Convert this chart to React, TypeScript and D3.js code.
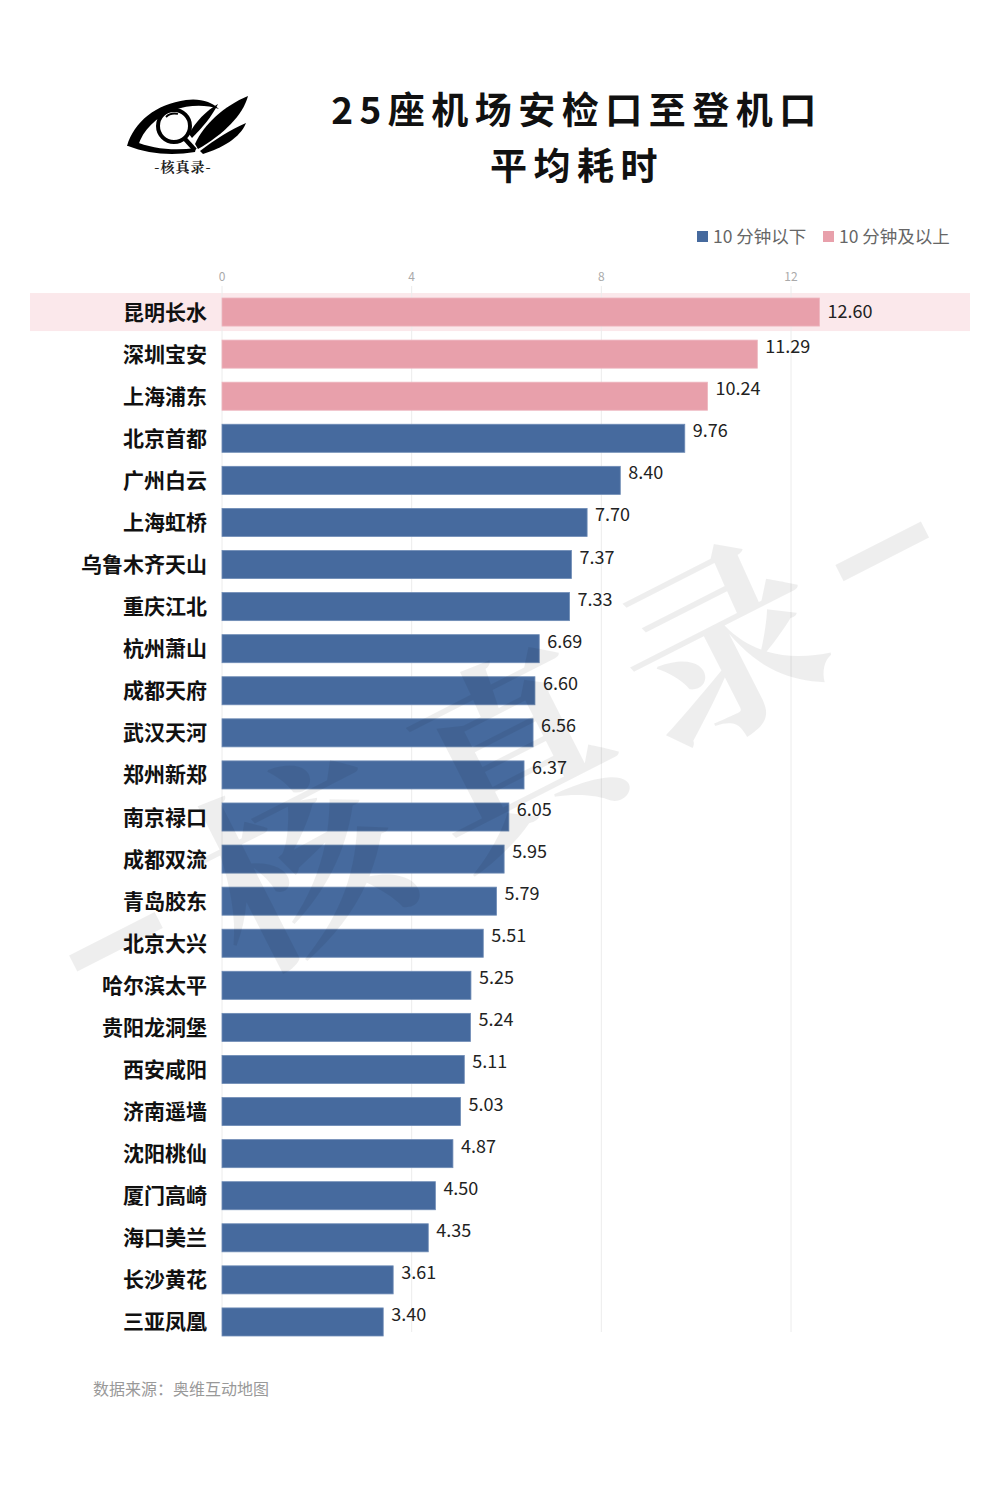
import React from "react";
import * as d3 from "d3";

const airports: string[] = [
  "昆明长水", "深圳宝安", "上海浦东", "北京首都", "广州白云", "上海虹桥", "乌鲁木齐天山",
  "重庆江北", "杭州萧山", "成都天府", "武汉天河", "郑州新郑", "南京禄口", "成都双流",
  "青岛胶东", "北京大兴", "哈尔滨太平", "贵阳龙洞堡", "西安咸阳", "济南遥墙", "沈阳桃仙",
  "厦门高崎", "海口美兰", "长沙黄花", "三亚凤凰",
];
const minutes: number[] = [
  12.6, 11.29, 10.24, 9.76, 8.4, 7.7, 7.37, 7.33, 6.69, 6.6, 6.56, 6.37, 6.05, 5.95,
  5.79, 5.51, 5.25, 5.24, 5.11, 5.03, 4.87, 4.5, 4.35, 3.61, 3.4,
];
const xTicks: number[] = [0, 4, 8, 12];
const legendLabels: string[] = ["10 分钟以下", "10 分钟及以上"];
const highlighted: string = "昆明长水";
const titleLines: string[] = ["25座机场安检口至登机口", "平均耗时"];
const sourceText = "数据来源：奥维互动地图";
const watermarkGlyphs: string[] = ["核", "真", "录"];
const watermarkOffsets: number[] = [-240, 0, 235];
const watermarkDashOffsets: number[] = [-440, 420];

const BLUE = "#466a9e";
const PINK = "#e8a0ab";
const FONT = "'Noto Sans CJK SC', 'Noto Sans', sans-serif";

export default function App() {
  const W = 1000;
  const H = 1500;
  const x = d3.scaleLinear().domain([0, 12]).range([222, 791]);
  const y = d3.scaleBand<string>().domain(airports).range([284, 1350]).paddingInner(0.333).paddingOuter(0.333);
  const bw = y.bandwidth();
  const color = (v: number) => (v >= 10 ? PINK : BLUE);
  const ang = -27;
  const rad = (ang * Math.PI) / 180;
  const wcx = 508;
  const wcy = 742;
  const along = (d: number) => [wcx + d * Math.cos(rad), wcy + d * Math.sin(rad)];

  return (
    <div style={{ margin: -8 }}>
      <svg width={W} height={H} style={{ display: "block", background: "#fff" }}>
        {/* logo */}
        <g>
          <path d="M127,146 C134,122 156,104 186,100 C200,98 212,102 219,109 C205,104 188,105 174,110 C156,117 143,130 138,146 Z" fill="#000" />
          <path d="M128,146 C148,154 172,156 195,152 L196,148 C174,151 152,149 134,141 Z" fill="#000" />
          <circle cx={174} cy={126} r={16} fill="none" stroke="#000" strokeWidth={4} />
          <path d="M166,117 C169,114 174,113 178,114" fill="none" stroke="#000" strokeWidth={1.8} />
          <path d="M185,139 L195,150" stroke="#000" strokeWidth={4.5} />
          <path d="M195,144 C204,124 224,106 248,96 C243,115 224,134 198,149 Z" fill="#000" />
          <path d="M200,151 C214,140 230,130 246,123 C240,138 222,148 203,154 Z" fill="#000" />
          <path d="M189,134 C196,121 206,111 218,104 C212,116 203,127 192,138 Z" fill="#000" />
          <text x={183} y={172} textAnchor="middle" fontSize={14} fontWeight={700} letterSpacing={1} fontFamily="'Noto Serif CJK SC', 'Noto Sans CJK SC', serif" fill="#222">
            -核真录-
          </text>
        </g>

        {/* title */}
        {titleLines.map((t, i) => (
          <text key={t} x={577} y={124 + i * 56} textAnchor="middle" fontSize={37} fontWeight={700} fontFamily={FONT} fill="#111" letterSpacing={6.5}>
            {t}
          </text>
        ))}

        {/* legend */}
        {legendLabels.map((l, i) => {
          const lx = i === 0 ? 697 : 823;
          return (
            <g key={l}>
              <rect x={lx} y={231} width={11} height={11} fill={i === 0 ? BLUE : PINK} />
              <text x={lx + 16} y={243} fontSize={17.5} fontFamily={FONT} fill="#666">
                {l}
              </text>
            </g>
          );
        })}

        {/* highlight band */}
        <rect x={30} y={(y(highlighted) as number) + bw / 2 - 19} width={940} height={38} fill="#fbe8eb" />

        {/* gridlines & ticks */}
        {xTicks.map((t) => (
          <g key={t}>
            <line x1={x(t)} x2={x(t)} y1={286} y2={1332} stroke="#ececec" strokeWidth={1} />
            <text x={x(t)} y={281} textAnchor="middle" fontSize={12} fontFamily={FONT} fill="#aaa">
              {t}
            </text>
          </g>
        ))}

        {/* bars */}
        {airports.map((a, i) => {
          const v = minutes[i];
          const by = y(a) as number;
          return (
            <g key={a}>
              <rect x={x(0)} y={by} width={x(v) - x(0)} height={bw} fill={color(v)} stroke={v >= 10 ? "#eeb6bf" : "#6f8cb6"} strokeWidth={0.8} />
              <text x={207} y={by + bw / 2 + 7.5} textAnchor="end" fontSize={21} fontWeight={700} fontFamily={FONT} fill="#111">
                {a}
              </text>
              <text x={x(v) + 8} y={by + bw / 2 + (i === 0 ? 6 : -1)} fontSize={18} fontFamily={FONT} fill="#222">
                {v.toFixed(2)}
              </text>
            </g>
          );
        })}

        {/* watermark */}
        <g fill="#000" fillOpacity={0.065}>
          {watermarkDashOffsets.map((d, i) => {
            const [cx, cy] = along(d);
            return (
              <rect key={`d${i}`} x={-48} y={-9} width={96} height={18} transform={`translate(${cx},${cy}) rotate(${ang})`} />
            );
          })}
          {watermarkGlyphs.map((g, i) => {
            const [cx, cy] = along(watermarkOffsets[i]);
            return (
              <text
                key={i}
                x={0}
                y={0}
                transform={`translate(${cx},${cy}) rotate(${ang})`}
                textAnchor="middle"
                dominantBaseline="central"
                fontSize={200}
                fontWeight={700}
                fontFamily="'Noto Serif CJK SC', 'Noto Sans CJK SC', serif"
              >
                {g}
              </text>
            );
          })}
        </g>

        {/* source */}
        <text x={93} y={1395} fontSize={16} fontFamily={FONT} fill="#999">
          {sourceText}
        </text>
      </svg>
    </div>
  );
}
